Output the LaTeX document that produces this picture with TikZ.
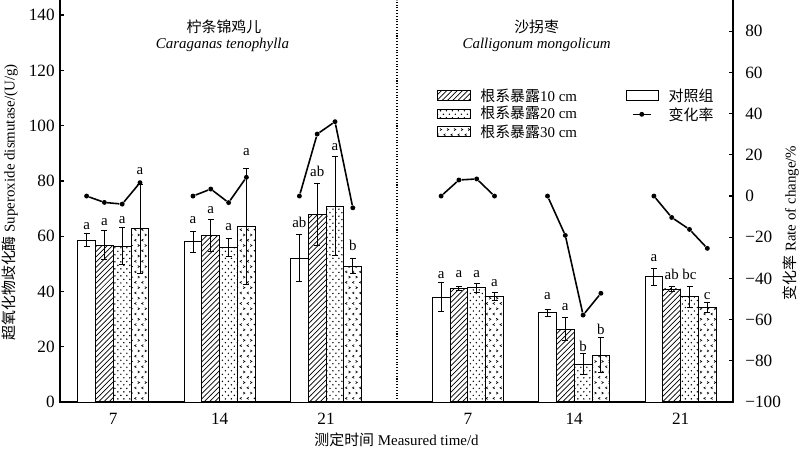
\documentclass[tikz,border=0pt]{standalone}
\usepackage{fontspec}
\setmainfont{Liberation Serif}
\newfontfamily\cjk{Noto Sans CJK SC}
\usetikzlibrary{patterns}

% fill patterns of the bars
\pgfdeclarepatternformonly{sanddots}{\pgfqpoint{-1pt}{-1pt}}{\pgfqpoint{4.4pt}{5pt}}{\pgfqpoint{3.4pt}{4pt}}{
  \pgfpathcircle{\pgfqpoint{0.8pt}{0.8pt}}{0.45pt}
  \pgfpathcircle{\pgfqpoint{2.5pt}{2.8pt}}{0.45pt}
  \pgfusepath{fill}}
\pgfdeclarepatternformonly{chevrons}{\pgfqpoint{-0.5pt}{-0.5pt}}{\pgfqpoint{4.5pt}{6.5pt}}{\pgfqpoint{4pt}{6pt}}{
  \pgfsetlinewidth{0.35pt}
  \pgfpathmoveto{\pgfqpoint{1.6pt}{0.5pt}}\pgfpathlineto{\pgfqpoint{0.6pt}{1.1pt}}\pgfpathlineto{\pgfqpoint{1.6pt}{1.7pt}}
  \pgfpathmoveto{\pgfqpoint{2.4pt}{3.5pt}}\pgfpathlineto{\pgfqpoint{3.4pt}{4.1pt}}\pgfpathlineto{\pgfqpoint{2.4pt}{4.7pt}}
  \pgfusepath{stroke}}

\begin{document}
\begin{tikzpicture}[x=0.02cm, y=0.02cm, font=\fontsize{8.5}{10}\selectfont,
    bar/.style={draw, line width=0.5pt},
    ctrlbar/.style={bar, fill=white},
    hatbar/.style={bar, pattern=north east lines},
    dotbar/.style={bar, pattern=sanddots},
    chevbar/.style={bar, pattern=chevrons},
    errbar/.style={line width=0.5pt},
    sig/.style={inner sep=0pt},
    rate/.style={line width=0.9pt},
    ratept/.style={circle, fill, inner sep=0pt, minimum size=2.8pt},
    axis/.style={line width=0.7pt},
    tick/.style={inner sep=0pt, font=\fontsize{9.8}{11}\selectfont}]
  \useasboundingbox (0,0) rectangle (800,453);
  % axes
  \draw[axis] (60,453) -- (60,51) -- (733,51) -- (733,453);
  \draw[densely dotted, line width=0.6pt] (397,51) -- (397,453);

  % bars, left scale
  \begin{scope}[yshift=1.02cm, y=0.05528cm]
    \foreach \v in {0,20,...,140}{
      \draw[axis] (60,\v) -- ++(4,0);
      \node[tick, anchor=east] (yl\v) at (55,\v) {\v};
    }
    % control
    \foreach \c/\v/\e/\l/\ly [count=\i] in {113.3/58.6/2.4/a/63.5, 219.7/58.0/3.7/a/65.9, 326.1/52.0/8.5/ab/64.9,
        467.8/37.9/5.2/a/46.0, 574.2/32.3/1.3/a/38.3, 680.6/45.3/3.2/a/52.2}{
      \draw[ctrlbar] (\c-35.6,0) rectangle ++(17.8,\v);
      \draw[errbar] (\c-26.7,\v-\e) -- (\c-26.7,\v+\e) (\c-29.7,\v+\e) -- (\c-23.7,\v+\e) (\c-29.7,\v-\e) -- (\c-23.7,\v-\e);
      \node[sig] (sa\i) at (\c-26.7,\ly) {\l};
    }
    % 10 cm
    \foreach \c/\v/\e/\l/\ly [count=\i] in {113.3/56.8/5.2/a/65.0, 219.7/60.2/5.7/a/69.5, 326.1/67.9/11.2/ab/83.4,
        467.8/41.1/0.8/a/46.3, 574.2/26.3/4.2/a/34.5, 680.6/40.9/0.8/ab/46.0}{
      \draw[hatbar] (\c-17.8,0) rectangle ++(17.8,\v);
      \draw[errbar] (\c-8.9,\v-\e) -- (\c-8.9,\v+\e) (\c-11.9,\v+\e) -- (\c-5.9,\v+\e) (\c-11.9,\v-\e) -- (\c-5.9,\v-\e);
      \node[sig] (sb\i) at (\c-8.9,\ly) {\l};
    }
    % 20 cm
    \foreach \c/\v/\e/\l/\ly [count=\i] in {113.3/56.4/6.6/a/65.9, 219.7/56.0/3.2/a/63.4, 326.1/70.9/17.8/a/92.4,
        467.8/41.4/1.6/a/46.3, 574.2/13.7/3.9/b/20.0, 680.6/38.1/3.9/bc/46.0}{
      \draw[dotbar] (\c,0) rectangle ++(17.8,\v);
      \draw[errbar] (\c+8.9,\v-\e) -- (\c+8.9,\v+\e) (\c+5.9,\v+\e) -- (\c+11.9,\v+\e) (\c+5.9,\v-\e) -- (\c+11.9,\v-\e);
      \node[sig] (sc\i) at (\c+8.9,\ly) {\l};
    }
    % 30 cm
    \foreach \c/\v/\e/\l/\ly [count=\i] in {113.3/62.7/16/a/83.4, 219.7/63.4/21/a/90.3, 326.1/49.2/2.8/b/56.6,
        467.8/38.1/1.5/a/42.9, 574.2/17.0/6.3/b/26.4, 680.6/34.1/1.8/c/38.3}{
      \draw[chevbar] (\c+17.8,0) rectangle ++(17.8,\v);
      \draw[errbar] (\c+26.7,\v-\e) -- (\c+26.7,\v+\e) (\c+23.7,\v+\e) -- (\c+29.7,\v+\e) (\c+23.7,\v-\e) -- (\c+29.7,\v-\e);
      \node[sig] (sd\i) at (\c+26.7,\ly) {\l};
    }
  \end{scope}

  % rate of change, right scale
  \begin{scope}[yshift=5.14cm, y=0.0412cm]
    \foreach \v/\t in {-100/−100, -80/−80, -60/−60, -40/−40, -20/−20, 0/0, 20/20, 40/40, 60/60, 80/80}{
      \draw[axis] (733,\v) -- ++(-4,0);
      \node[tick, anchor=west] (yr\v) at (745,\v) {\t};
    }
    \foreach \c/\ra/\rb/\rc/\rd [count=\g] in {113.3/0/-3.1/-3.9/6.5, 219.7/0/3.4/-3.2/9.1, 326.1/0/30.1/36.1/-5.7,
        467.8/0/7.8/8.3/0, 574.2/0/-19.1/-57.8/-47.2, 680.6/0/-10.4/-16.2/-25.4}{
      \node[ratept] (ra\g) at (\c-26.7,\ra) {};
      \node[ratept] (rb\g) at (\c-8.9,\rb) {};
      \node[ratept] (rc\g) at (\c+8.9,\rc) {};
      \node[ratept] (rd\g) at (\c+26.7,\rd) {};
      \draw[rate] (ra\g) -- (rb\g) -- (rc\g) -- (rd\g);
    }
  \end{scope}

  % group labels
  \foreach \c/\t [count=\i] in {113.3/7, 219.7/14, 326.1/21, 467.8/7, 574.2/14, 680.6/21}
    \node[tick] (xl\i) at (\c,34) {\t};

  % species
  \node (ctcn) at (224,425.7) {\cjk 柠条锦鸡儿};
  \node (ctla) at (222.5,408) {\itshape Caraganas tenophylla};
  \node (cmcn) at (536.7,425.7) {\cjk 沙拐枣};
  \node (cmla) at (536.7,408) {\itshape Calligonum mongolicum};

  % legend
  \draw[hatbar] (437.7,352.3) rectangle (470.7,362.3);
  \draw[dotbar] (437.7,334.3) rectangle (470.7,343.7);
  \draw[chevbar] (437.7,316.3) rectangle (470.7,326.3);
  \node[anchor=west, inner sep=0pt] (lg10) at (480,357.3) {{\cjk 根系暴露}10 cm};
  \node[anchor=west, inner sep=0pt] (lg20) at (480,339.7) {{\cjk 根系暴露}20 cm};
  \node[anchor=west, inner sep=0pt] (lg30) at (480,321.3) {{\cjk 根系暴露}30 cm};
  \draw[ctrlbar] (626.7,352.3) rectangle (658.3,362.3);
  \node[anchor=west, inner sep=0pt] (lgck) at (668.3,357.3) {\cjk 对照组};
  \coordinate (lgl) at (633,338.7);
  \coordinate (lgr) at (650.7,338.7);
  \draw[line width=0.6pt] (lgl) -- (lgr);
  \node[ratept] (lgpt) at (641.8,338.7) {};
  \node[anchor=west, inner sep=0pt] (lgrt) at (668.3,338.7) {\cjk 变化率};

  % axis titles
  \node[rotate=90] (ylab) at (10,250.5) {{\cjk 超氧化物歧化酶} Superoxide dismutase/(U/g)};
  \node[rotate=90] (rlab) at (791,230) {{\cjk 变化率} Rate of change/\%};
  \node (xlab) at (396.5,13) {{\cjk 测定时间} Measured time/d};
\end{tikzpicture}
\end{document}
